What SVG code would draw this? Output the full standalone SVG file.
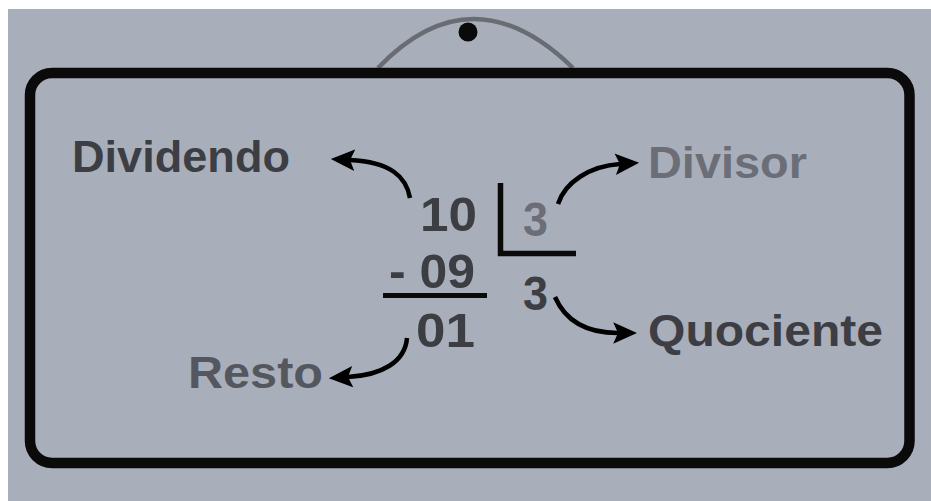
<svg xmlns="http://www.w3.org/2000/svg" width="931" height="501" viewBox="0 0 931 501">
<style>
.t{font-family:"Liberation Sans",Arial,sans-serif;font-weight:bold;}
.lbl{font-size:45px;}
.num{font-size:49px;}
.dark{fill:#3d3e44;}
.light{fill:#6b6e77;}
.mid{fill:#55575f;}
.ln{stroke:#0a0a0a;fill:none;}
.arr{stroke:#000;stroke-width:4.5;fill:none;marker-end:url(#ah);}
</style>
<defs>
<marker id="ah" markerUnits="userSpaceOnUse" markerWidth="24" markerHeight="24" viewBox="0 0 20 20" refX="4" refY="10" orient="auto">
<path d="M0,1 L20,10 L0,19 L4,10 Z" fill="#000"/>
</marker>
</defs>
<rect x="0" y="0" width="931" height="501" fill="#ffffff"/>
<rect x="8" y="9" width="923" height="492" fill="#a9aebb"/>
<g id="hanger">
<path d="M378,68 Q472,-30 573,68" stroke="#696c73" stroke-width="4.5" fill="none"/>
<circle cx="468" cy="32" r="9.5" fill="#0a0a0a"/>
</g>
<g id="board">
<rect x="30" y="73" width="879.5" height="390" rx="22" ry="22" class="ln" stroke-width="10.5"/>
</g>
<g id="division">
<path d="M500.5,183 V253.5 H576" class="ln" stroke-width="5.5"/>
<line x1="383" y1="295.5" x2="487" y2="295.5" class="ln" stroke-width="5"/>
<text id="dividend" class="t num dark" x="420" y="231" textLength="57" lengthAdjust="spacingAndGlyphs">10</text>
<text id="divisor-num" class="t num light" x="523" y="236" textLength="25" lengthAdjust="spacingAndGlyphs">3</text>
<text id="subtract" class="t num dark" x="389" y="288" textLength="86" lengthAdjust="spacingAndGlyphs">- 09</text>
<text id="remainder" class="t num dark" x="416" y="347" textLength="59" lengthAdjust="spacingAndGlyphs">01</text>
<text id="quotient-num" class="t num dark" x="523" y="310" textLength="25" lengthAdjust="spacingAndGlyphs">3</text>
</g>
<g id="label-dividendo"><text class="t lbl dark" x="72" y="172" textLength="218" lengthAdjust="spacingAndGlyphs">Dividendo</text></g>
<g id="label-divisor"><text class="t lbl light" x="648" y="178" textLength="159" lengthAdjust="spacingAndGlyphs">Divisor</text></g>
<g id="label-quociente"><text class="t lbl dark" x="648" y="346" textLength="235" lengthAdjust="spacingAndGlyphs">Quociente</text></g>
<g id="label-resto"><text class="t lbl mid" x="188" y="388" textLength="135" lengthAdjust="spacingAndGlyphs">Resto</text></g>
<g id="connectors">
<path class="arr" d="M410,198 C406,176 390,162 350,160"/>
<path class="arr" d="M558,204 C565,182 590,166 620,164"/>
<path class="arr" d="M555,297 C565,320 585,333 618,333"/>
<path class="arr" d="M407,338 C405,362 382,375 348,377"/>
</g>
</svg>
